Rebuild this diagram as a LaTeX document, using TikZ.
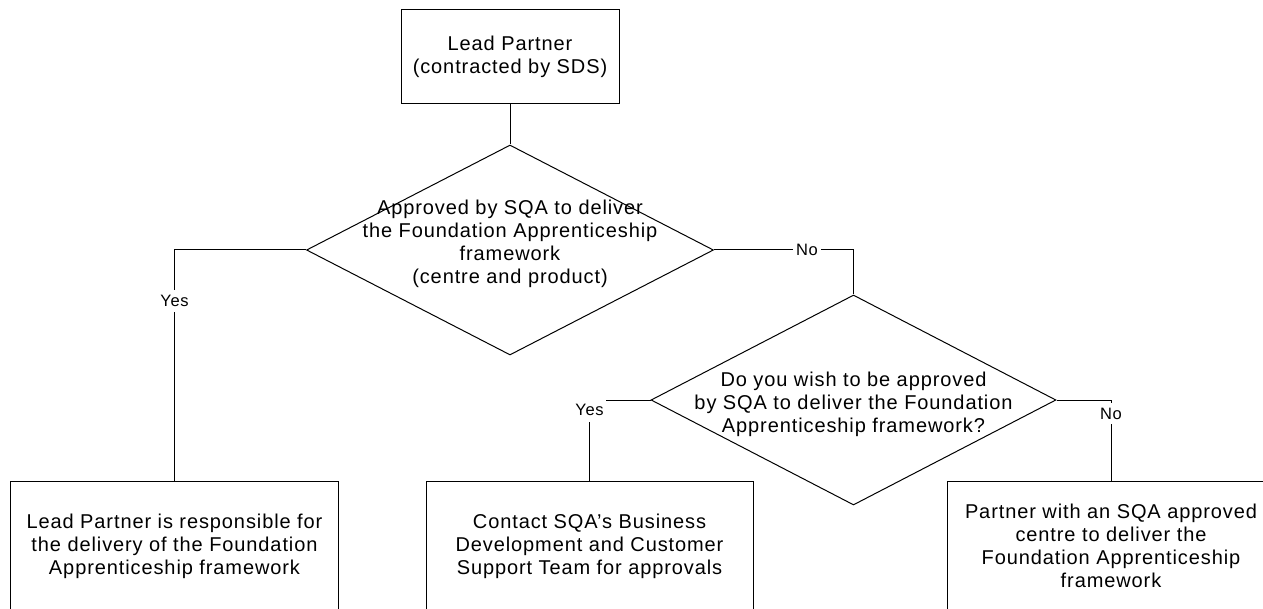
\documentclass[tikz,border=0pt]{standalone}
\usepackage{fontspec}
\setmainfont[LetterSpace=4.5]{Liberation Sans}
\usetikzlibrary{shapes.geometric}
\newcommand\myBody{\fontsize{20bp}{23bp}\selectfont}
\newcommand\myLbl{\fontsize{16.5bp}{19bp}\selectfont}
\begin{document}
\begin{tikzpicture}[x=1bp,y=-1bp,line width=1bp,
  box/.style={draw,rectangle,inner sep=0pt,align=center,font=\myBody},
  dia/.style={draw,diamond,inner sep=0pt},
  dtext/.style={align=center,font=\myBody,inner sep=0pt},
  lbl/.style={fill=white,inner sep=0pt,font=\myLbl}]
\useasboundingbox (0,0) rectangle (1263,609);
\clip (0,0) rectangle (1263,609);
% nodes
\node[box,minimum width=218bp,minimum height=94bp] (lp) at (510,57) {Lead Partner\\(contracted by SDS)};
\node[dia,minimum width=407bp,minimum height=210bp] (d1) at (510,250) {};
\node[dtext] (d1t) at (510,244) {Approved by SQA to deliver\\the Foundation Apprenticeship\\framework\\(centre and product)};
\node[dia,minimum width=405bp,minimum height=210bp] (d2) at (853.5,400) {};
\node[dtext] (d2t) at (853.5,404) {Do you wish to be approved\\by SQA to deliver the Foundation\\Apprenticeship framework?};
\node[box,minimum width=327bp,minimum height=130bp] (b1) at (174.5,546) {Lead Partner is responsible for\\the delivery of the Foundation\\Apprenticeship framework};
\node[box,minimum width=327bp,minimum height=130bp] (b2) at (589.5,546) {Contact SQA's Business\\Development and Customer\\Support Team for approvals};
\node[box,minimum width=327bp,minimum height=130bp] (b3) at (1111,546) {Partner with an SQA approved\\centre to deliver the\\Foundation Apprenticeship\\framework};
% connectors
\draw (lp.south) -- (d1.north);
\draw (d1.west) -| (b1.north);
\draw (d1.east) -| (d2.north);
\draw (d2.west) -| (b2.north);
\draw (d2.east) -| (b3.north);
% labels
\node[lbl,minimum width=32bp,minimum height=22bp] (y1) at (174.5,301) {Yes};
\node[lbl,minimum width=28bp,minimum height=16bp] (n1) at (807,250) {No};
\node[lbl,minimum width=33bp,minimum height=24bp] (y2) at (589.5,410) {Yes};
\node[lbl,minimum width=26bp,minimum height=21bp] (n2) at (1111,413.5) {No};
\end{tikzpicture}
\end{document}
